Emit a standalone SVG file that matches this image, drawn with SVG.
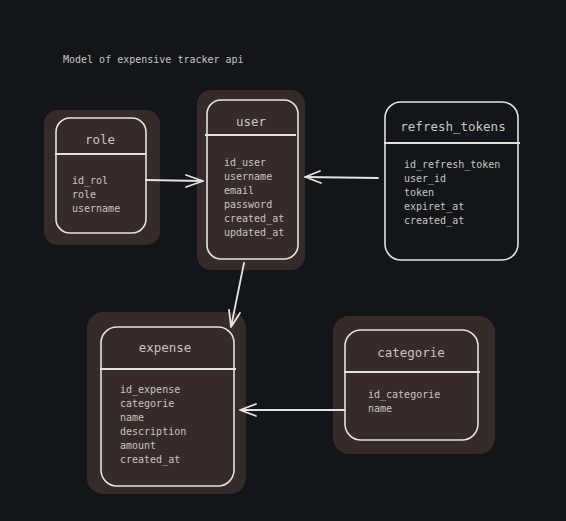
<svg xmlns="http://www.w3.org/2000/svg" width="566" height="521" viewBox="0 0 566 521">
<defs>
<style>
.blob{fill:#362b28}
.box{fill:none;stroke:#e4e2e0;stroke-width:1.6}
.div{stroke:#e4e2e0;stroke-width:2.2}
.t{font-family:"DejaVu Sans Mono","Liberation Mono",monospace;fill:#c9c5c1}
.title{font-size:12.5px;text-anchor:middle}
.f{font-size:10px}
.c{stroke:#e4e2e0;stroke-width:1.8;fill:none;stroke-linecap:round;stroke-linejoin:round}
</style>
</defs>
<rect width="566" height="521" fill="#121519"/>
<text class="t f" x="63" y="63">Model of expensive tracker api</text>
<g id="role">
<rect class="blob" x="44" y="110" width="116" height="135" rx="14"/>
<rect class="box" x="56" y="118" width="90" height="115" rx="14"/>
<line class="div" x1="55" y1="154" x2="146" y2="154"/>
<text class="t title" x="100" y="144">role</text>
<text class="t f" x="72" y="184">id_rol</text>
<text class="t f" x="72" y="198">role</text>
<text class="t f" x="72" y="212">username</text>
</g>
<g id="user">
<rect class="blob" x="197" y="90" width="108" height="180" rx="14"/>
<rect class="box" x="207" y="100" width="91" height="159" rx="14"/>
<line class="div" x1="205" y1="135" x2="296" y2="135"/>
<text class="t title" x="251" y="126">user</text>
<text class="t f" x="224" y="166">id_user</text>
<text class="t f" x="224" y="180">username</text>
<text class="t f" x="224" y="194">email</text>
<text class="t f" x="224" y="208">password</text>
<text class="t f" x="224" y="222">created_at</text>
<text class="t f" x="224" y="236">updated_at</text>
</g>
<g id="refresh_tokens">
<rect class="box" x="385" y="102" width="133" height="158" rx="16"/>
<line class="div" x1="384" y1="143" x2="520" y2="143"/>
<text class="t title" x="453" y="131">refresh_tokens</text>
<text class="t f" x="404" y="168">id_refresh_token</text>
<text class="t f" x="404" y="182">user_id</text>
<text class="t f" x="404" y="196">token</text>
<text class="t f" x="404" y="210">expiret_at</text>
<text class="t f" x="404" y="224">created_at</text>
</g>
<g id="expense">
<rect class="blob" x="87" y="312" width="159" height="182" rx="16"/>
<rect class="box" x="101" y="327" width="133" height="159" rx="16"/>
<line class="div" x1="100" y1="369" x2="236" y2="369"/>
<text class="t title" x="165" y="352">expense</text>
<text class="t f" x="120" y="393">id_expense</text>
<text class="t f" x="120" y="407">categorie</text>
<text class="t f" x="120" y="421">name</text>
<text class="t f" x="120" y="435">description</text>
<text class="t f" x="120" y="449">amount</text>
<text class="t f" x="120" y="463">created_at</text>
</g>
<g id="categorie">
<rect class="blob" x="333" y="316" width="162" height="138" rx="16"/>
<rect class="box" x="345" y="330" width="133" height="110" rx="16"/>
<line class="div" x1="344" y1="372" x2="480" y2="372"/>
<text class="t title" x="411" y="357">categorie</text>
<text class="t f" x="368" y="398">id_categorie</text>
<text class="t f" x="368" y="412">name</text>
</g>
<g id="connectors">
<path class="c" d="M146 180 L203 181 M186 175 L203 181 L186 187"/>
<path class="c" d="M378 178 L305 177 M320 171 L305 177 L321 183"/>
<path class="c" d="M244 263 L231 327 M229 310 L231 327 L240 313"/>
<path class="c" d="M345 410 L240 410 M256 404 L240 410 L256 416"/>
</g>
</svg>
